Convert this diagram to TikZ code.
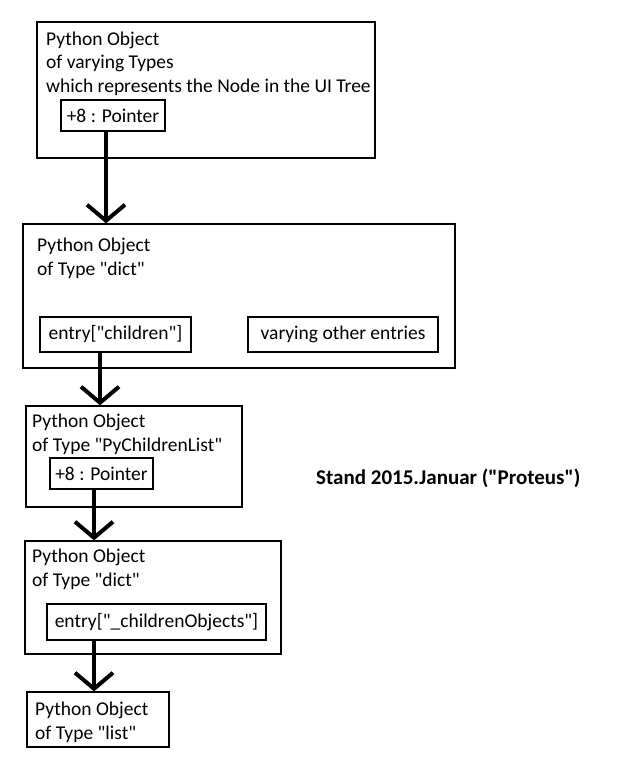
\documentclass[tikz,border=0pt]{standalone}
\usepackage{fontspec}
\setmainfont{Carlito}
\usetikzlibrary{arrows.meta}
\newcommand{\dq}{\textquotedbl{}}
\begin{document}
\begin{tikzpicture}[x=1pt,y=-1pt,
  frame/.style={draw=black,line width=1.3pt,inner sep=0pt},
  txt/.style={anchor=base west,inner sep=0pt,align=left,font=\fontsize{19.5}{23.5}\selectfont},
  field/.style={draw=black,line width=1.3pt,inner sep=0pt,font=\fontsize{19.5}{23.5}\selectfont},
  arr/.style={line width=4.5pt,-{Straight Barb[length=16pt,width=38pt,line width=4pt]}}]
\useasboundingbox (0,0) rectangle (616,779);
% box 1
\node[frame,minimum width=338pt,minimum height=136pt] (b1) at (206,90) {};
\node[txt] (t1) at (46,92) {Python Object\\of varying Types\\which represents the Node in the UI Tree};
\node[field,minimum width=104pt,minimum height=31pt] (p1) at (113,115.5) {+8 : Pointer};
% box 2
\node[frame,minimum width=432pt,minimum height=144pt] (b2) at (239,296) {};
\node[txt] (t2) at (37,275) {Python Object\\of Type \dq dict\dq};
\node[field,minimum width=151pt,minimum height=35pt] (ch) at (115.5,334.5) {entry[\dq children\dq]};
\node[field,minimum width=190pt,minimum height=35pt] (oth) at (343,334.5) {varying other entries};
% box 3
\node[frame,minimum width=216pt,minimum height=101pt] (b3) at (134,456.5) {};
\node[txt] (t3) at (32,451) {Python Object\\of Type \dq PyChildrenList\dq};
\node[field,minimum width=103pt,minimum height=31pt] (p2) at (101.5,473.5) {+8 : Pointer};
% box 4
\node[frame,minimum width=256pt,minimum height=113pt] (b4) at (153,597.5) {};
\node[txt] (t4) at (32,586) {Python Object\\of Type \dq dict\dq};
\node[field,minimum width=219pt,minimum height=36pt] (co) at (156.5,622) {entry[\dq\_childrenObjects\dq]};
% box 5
\node[frame,minimum width=142pt,minimum height=55pt] (b5) at (98,719.5) {};
\node[txt] (t5) at (35,739) {Python Object\\of Type \dq list\dq};
% note
\node[txt,font=\bfseries\fontsize{21}{25}\selectfont] (note) at (316,484) {Stand 2015.Januar (\dq Proteus\dq)};
% arrows
\draw[arr] ([xshift=-7pt]p1.south) -- ([xshift=-7pt]p1.south |- b2.north);
\draw[arr] ([xshift=-15.5pt]ch.south) -- ([xshift=-15.5pt]ch.south |- b3.north);
\draw[arr] ([xshift=-7.5pt]p2.south) -- ([xshift=-7.5pt]p2.south |- b4.north);
\draw[arr] ([xshift=-62.5pt]co.south) -- ([xshift=-62.5pt]co.south |- b5.north);
\end{tikzpicture}
\end{document}
